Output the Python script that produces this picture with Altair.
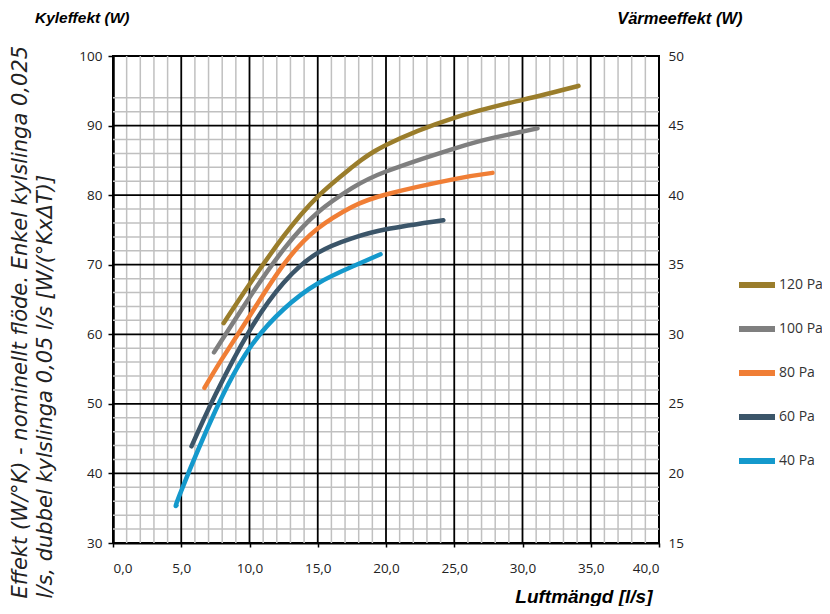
import altair as alt
import pandas as pd

# ---- data ----
series = ["120 Pa", "100 Pa", "80 Pa", "60 Pa", "40 Pa"]
colors = ["#9A7D2B", "#7F7F7F", "#F07E35", "#3B5569", "#1499CC"]

x_120 = [8.1, 10.0, 12.5, 15.0, 17.5, 20.0, 25.0, 30.0, 34.1]
y_120 = [61.6, 67.2, 74.1, 79.8, 84.0, 87.2, 91.1, 93.7, 95.7]
x_100 = [7.4, 10.0, 12.5, 15.0, 17.5, 20.0, 25.0, 28.0, 31.1]
y_100 = [57.4, 65.3, 72.2, 77.5, 81.0, 83.4, 86.7, 88.3, 89.6]
x_80 = [6.7, 8.0, 10.0, 12.5, 15.0, 17.5, 20.0, 25.0, 27.8]
y_80 = [52.3, 56.5, 62.6, 70.0, 75.2, 78.3, 80.1, 82.3, 83.2]
x_60 = [5.75, 7.5, 10.0, 12.5, 15.0, 17.5, 20.0, 24.2]
y_60 = [43.9, 51.3, 60.5, 67.4, 71.7, 73.8, 75.1, 76.4]
x_40 = [4.65, 5.0, 7.5, 10.0, 12.5, 15.0, 17.5, 19.6]
y_40 = [35.4, 37.5, 49.0, 58.0, 63.6, 67.3, 69.7, 71.5]

x_ticks = [0, 5, 10, 15, 20, 25, 30, 35, 40]
y_ticks = [30, 40, 50, 60, 70, 80, 90, 100]
y2_ticks = [15, 20, 25, 30, 35, 40, 45, 50]
x_minor = [v for v in range(1, 40) if v % 5 != 0]
y_minor = [32, 34, 36, 38, 42, 44, 46, 48, 52, 54, 56, 58, 62, 64, 66, 68,
           72, 74, 76, 78, 82, 84, 86, 88, 92, 94]
x_major = [5, 10, 15, 20, 25, 30, 35]
y_major = [40, 50, 60, 70, 80, 90]

title_left = ["Effekt (W/°K) - nominellt flöde. Enkel kylslinga 0,025",
              "l/s, dubbel kylslinga 0,05 l/s [W/(°KxΔT)]"]
title_top_left = "Kyleffekt (W)"
title_top_right = "Värmeeffekt (W)"
title_x = "Luftmängd [l/s]"

# ---- build tables ----
rows = []
for name, xs, ys in [("120 Pa", x_120, y_120), ("100 Pa", x_100, y_100),
                     ("80 Pa", x_80, y_80), ("60 Pa", x_60, y_60),
                     ("40 Pa", x_40, y_40)]:
    for i, (a, b) in enumerate(zip(xs, ys)):
        rows.append({"series": name, "x": a, "y": b, "i": i})
df = pd.DataFrame(rows)

FONT = "Open Sans"
xscale = alt.Scale(domain=[0, 40], nice=False, zero=False)
yscale = alt.Scale(domain=[30, 100], nice=False, zero=False)

x_axis = alt.Axis(
    values=x_ticks, grid=False,
    labelExpr="replace(format(datum.value, '.1f'), '.', ',')",
    labelFont=FONT, labelFontSize=13.5, labelColor="#222",
    labelPadding=14, tickColor="black", tickSize=4, tickWidth=1.5,
    domainColor="black", domainWidth=2,
    title=title_x, titleFont="Liberation Sans",
    titleFontSize=19, titleFontWeight="bold", titleFontStyle="italic",
    titleColor="black", titleX=539, titleY=53, titleAlign="right",
    titleBaseline="middle", titleAnchor="end")
y_axis = alt.Axis(
    orient="left", values=y_ticks, grid=False, format="d",
    labelFont=FONT, labelFontSize=13.5, labelColor="#222",
    labelPadding=6, tickColor="black", tickSize=5, tickWidth=1.5,
    domainColor="black", domainWidth=2.5,
    title=title_left, titleFont="DejaVu Sans", titleFontSize=21,
    titleFontWeight="normal", titleFontStyle="italic", titleColor="#222",
    titleAngle=270, titleAlign="left", titleBaseline="top",
    titleX=-104, titleY=542, titleLineHeight=25, titleAnchor="start")

X = alt.X("x:Q", scale=xscale, axis=x_axis)
Y = alt.Y("y:Q", scale=yscale, axis=y_axis)

minor_v = alt.Chart(pd.DataFrame({"x": x_minor})).mark_rule(
    color="#C0C0C0", strokeWidth=1.5).encode(x=X)
minor_h = alt.Chart(pd.DataFrame({"y": y_minor})).mark_rule(
    color="#C0C0C0", strokeWidth=1.5).encode(y=Y)
major_v = alt.Chart(pd.DataFrame({"x": x_major})).mark_rule(
    color="black", strokeWidth=1.8).encode(x=X)
major_h = alt.Chart(pd.DataFrame({"y": y_major})).mark_rule(
    color="black", strokeWidth=1.8).encode(y=Y)

lines = alt.Chart(df).mark_line(
    strokeWidth=4.5, strokeCap="round", interpolate="natural").encode(
    x=X, y=Y,
    color=alt.Color("series:N", scale=alt.Scale(domain=series, range=colors),
                    legend=alt.Legend(
                        title=None, orient="none", legendX=623, legendY=208,
                        symbolType="stroke", symbolStrokeWidth=6,
                        symbolSize=1296, labelFont=FONT, labelFontSize=14,
                        labelColor="#333", labelOffset=1, rowPadding=11)),
    detail="series:N",
    order="i:Q",
)

inner = alt.layer(minor_v, minor_h, major_v, major_h, lines)

right = alt.Chart(pd.DataFrame({"v": [15, 50]})).mark_point(opacity=0).encode(
    y=alt.Y("v:Q", scale=alt.Scale(domain=[15, 50], nice=False, zero=False),
            axis=alt.Axis(orient="right", values=y2_ticks, grid=False,
                          format="d", labelFont=FONT, labelFontSize=13.5,
                          labelColor="#222", labelPadding=9, ticks=False,
                          domain=False,
                          title=title_top_right, titleFont="Liberation Sans",
                          titleFontSize=16.5, titleFontWeight="bold",
                          titleFontStyle="italic", titleColor="black",
                          titleAngle=0, titleAlign="right",
                          titleBaseline="middle", titleX=83, titleY=-38)))

top_left = alt.Chart(pd.DataFrame({"t": [title_top_left]})).mark_text(
    align="left", baseline="middle", font="Liberation Sans", fontSize=15.5,
    fontWeight="bold", fontStyle="italic", color="black").encode(
    text="t:N", x=alt.value(-78), y=alt.value(-38))

chart = alt.layer(inner, right, top_left).resolve_scale(
    y="independent").properties(
    width=546, height=487,
    autosize=alt.AutoSizeParams(type="none"),
    padding={"left": 105, "top": 48, "right": 163, "bottom": 63},
).configure_view(stroke="black", strokeWidth=2)

chart.save("out.html", embed_options={"renderer": "svg", "actions": False})
